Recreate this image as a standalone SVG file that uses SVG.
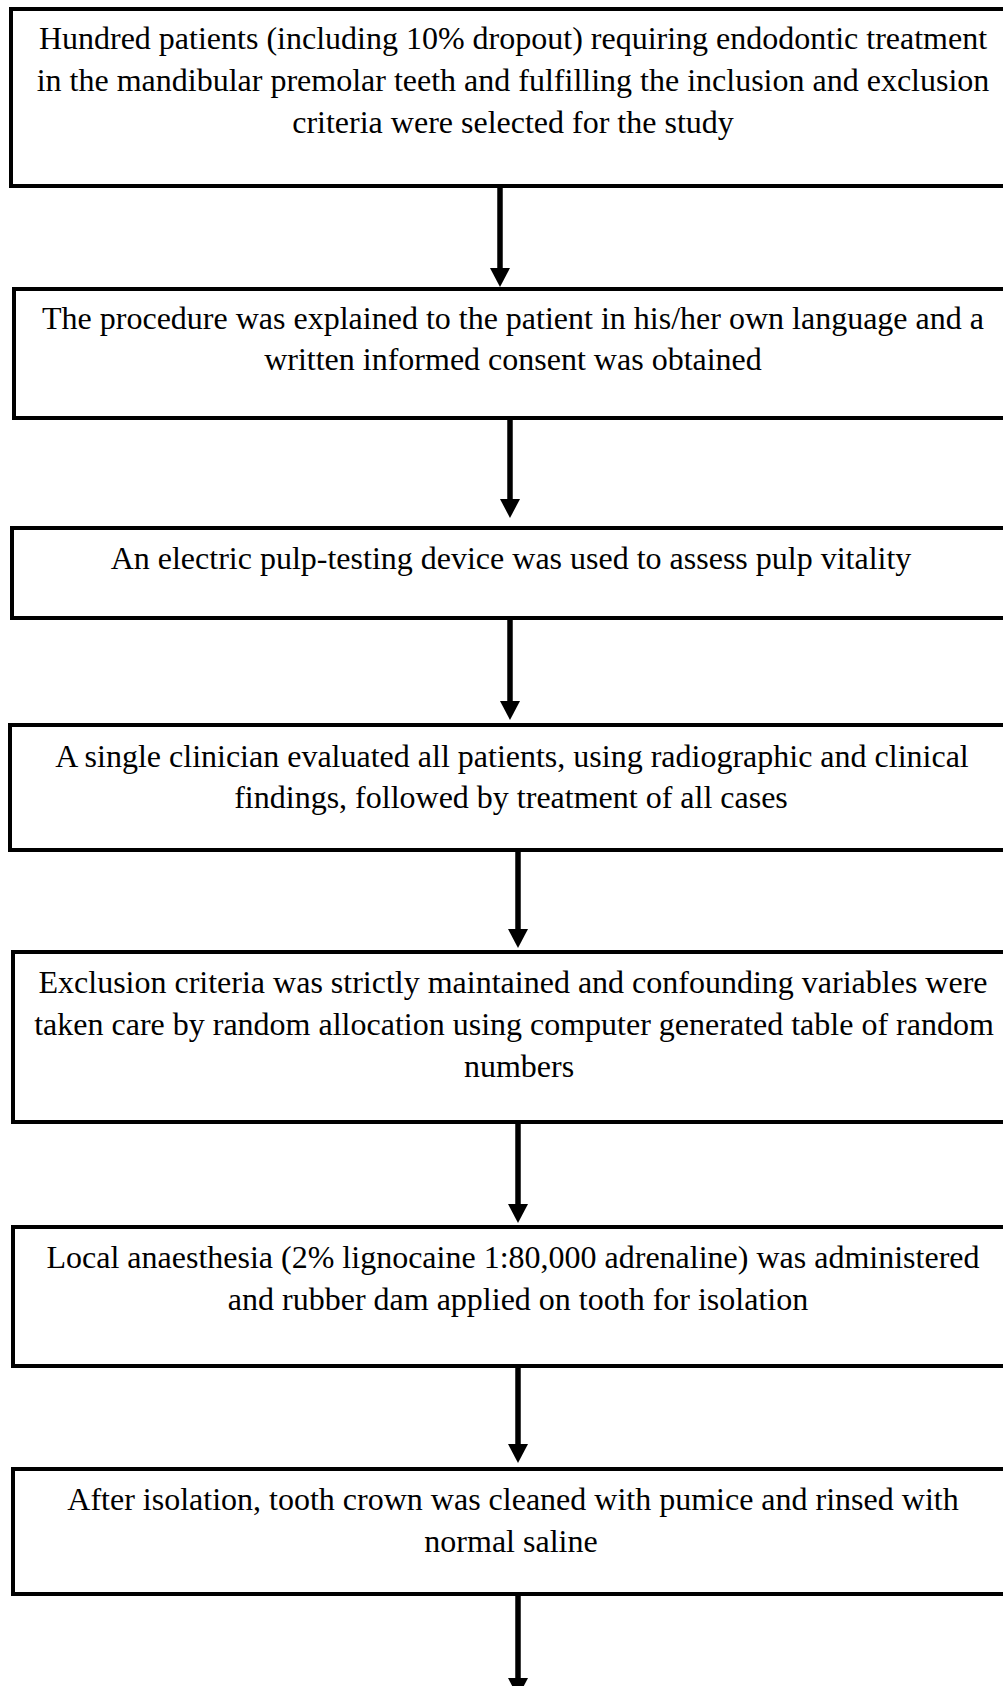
<svg xmlns="http://www.w3.org/2000/svg" width="1003" height="1686" viewBox="0 0 1003 1686">
<style>
.box{fill:#fff;stroke:#000;stroke-width:4}
.t{font-family:"Liberation Serif","Times New Roman",serif;font-size:32px;fill:#000;text-anchor:middle}
.c{stroke:#000;stroke-width:5.5;fill:none}
</style>
<defs>
<marker id="ah" markerUnits="userSpaceOnUse" markerWidth="20" markerHeight="20" refX="8" refY="10" orient="auto" overflow="visible">
<path d="M0,0 L19,10 L0,20 Z" fill="#000"/>
</marker>
</defs>
<rect width="1003" height="1686" fill="#fff"/>
<g id="connectors">
<line class="c" x1="500" y1="186" x2="500" y2="276" marker-end="url(#ah)"/>
<line class="c" x1="510" y1="418" x2="510" y2="507" marker-end="url(#ah)"/>
<line class="c" x1="510" y1="618" x2="510" y2="709" marker-end="url(#ah)"/>
<line class="c" x1="518" y1="850" x2="518" y2="937" marker-end="url(#ah)"/>
<line class="c" x1="518" y1="1122" x2="518" y2="1212" marker-end="url(#ah)"/>
<line class="c" x1="518" y1="1363" x2="518" y2="1452" marker-end="url(#ah)"/>
<line class="c" x1="518" y1="1594" x2="518" y2="1686" marker-end="url(#ah)"/>
</g>
<g id="n1">
<rect class="box" x="11" y="9" width="1010" height="177"/>
<text class="t" x="513" y="49">Hundred patients (including 10% dropout) requiring endodontic treatment</text>
<text class="t" x="513" y="91">in the mandibular premolar teeth and fulfilling the inclusion and exclusion</text>
<text class="t" x="513" y="133">criteria were selected for the study</text>
</g>
<g id="n2">
<rect class="box" x="14" y="289" width="1010" height="129"/>
<text class="t" x="513" y="329">The procedure was explained to the patient in his/her own language and a</text>
<text class="t" x="513" y="370">written informed consent was obtained</text>
</g>
<g id="n3">
<rect class="box" x="12" y="528" width="1010" height="90"/>
<text class="t" x="511" y="569">An electric pulp-testing device was used to assess pulp vitality</text>
</g>
<g id="n4">
<rect class="box" x="10" y="725" width="1010" height="125"/>
<text class="t" x="512" y="767">A single clinician evaluated all patients, using radiographic and clinical</text>
<text class="t" x="511" y="808">findings, followed by treatment of all cases</text>
</g>
<g id="n5">
<rect class="box" x="13" y="952" width="1010" height="170"/>
<text class="t" x="513" y="993">Exclusion criteria was strictly maintained and confounding variables were</text>
<text class="t" x="514" y="1035">taken care by random allocation using computer generated table of random</text>
<text class="t" x="519" y="1077">numbers</text>
</g>
<g id="n6">
<rect class="box" x="13" y="1227" width="1010" height="139"/>
<text class="t" x="513" y="1268">Local anaesthesia (2% lignocaine 1:80,000 adrenaline) was administered</text>
<text class="t" x="518" y="1310">and rubber dam applied on tooth for isolation</text>
</g>
<g id="n7">
<rect class="box" x="13" y="1469" width="1010" height="125"/>
<text class="t" x="513" y="1510">After isolation, tooth crown was cleaned with pumice and rinsed with</text>
<text class="t" x="511" y="1552">normal saline</text>
</g>
</svg>
